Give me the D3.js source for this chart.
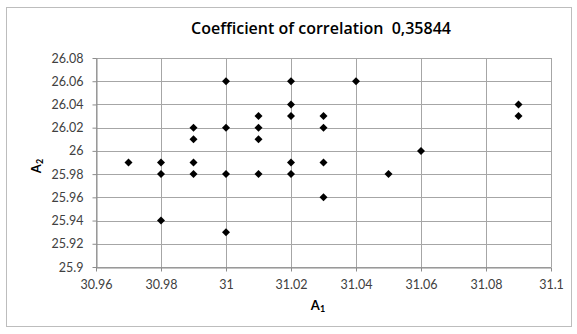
<!DOCTYPE html>
<html>
<head>
<meta charset="utf-8">
<script src="https://cdn.jsdelivr.net/npm/d3@7"></script>
<style>
  body { margin: 0; background: #fff; }
  text { font-family: Lato, "Open Sans", sans-serif; }
</style>
</head>
<body>
<svg></svg>
<script>
const width = 577;
const height = 334;

// measurements A1 / A2
const a1 = [30.97, 30.98, 30.98, 30.98, 30.99, 30.99, 30.99, 30.99,
            31.00, 31.00, 31.00, 31.00, 31.01, 31.01, 31.01, 31.01,
            31.02, 31.02, 31.02, 31.02, 31.02, 31.03, 31.03, 31.03, 31.03,
            31.04, 31.05, 31.06, 31.09, 31.09];
const a2 = [25.99, 25.99, 25.98, 25.94, 26.02, 26.01, 25.99, 25.98,
            26.06, 26.02, 25.98, 25.93, 26.03, 26.02, 26.01, 25.98,
            26.06, 26.04, 26.03, 25.99, 25.98, 26.03, 26.02, 25.99, 25.96,
            26.06, 25.98, 26.00, 26.04, 26.03];
const xTicks = [30.96, 30.98, 31, 31.02, 31.04, 31.06, 31.08, 31.1];
const yTicks = [25.9, 25.92, 25.94, 25.96, 25.98, 26, 26.02, 26.04, 26.06, 26.08];

const points = a1.map((x, i) => ({x: x, y: a2[i]}));

const svg = d3.select("svg")
              .attr("width", width)
              .attr("height", height);

// chart border
svg.append("rect")
  .attr("x", 6.5).attr("y", 7.5)
  .attr("width", 565).attr("height", 319)
  .attr("fill", "#fff")
  .attr("stroke", "#bdbdbd");

const xScale = d3.scaleLinear()
                .domain([30.96, 31.1])
                .range([96, 551]);

const yScale = d3.scaleLinear()
                .domain([25.9, 26.08])
                .range([267, 58]);

// grid
svg.append("g")
  .selectAll("line")
    .data(yTicks)
    .enter()
    .append("line")
    .attr("x1", xScale(30.96)).attr("x2", xScale(31.1))
    .attr("y1", d => Math.round(yScale(d)) + 0.5)
    .attr("y2", d => Math.round(yScale(d)) + 0.5)
    .attr("stroke", "#a6a6a6");

svg.append("g")
  .selectAll("line")
    .data(xTicks)
    .enter()
    .append("line")
    .attr("y1", yScale(25.9)).attr("y2", yScale(26.08))
    .attr("x1", d => Math.round(xScale(d)) + 0.5)
    .attr("x2", d => Math.round(xScale(d)) + 0.5)
    .attr("stroke", "#a6a6a6");

const xAxis = d3.axisBottom(xScale)
                .tickValues(xTicks)
                .tickFormat(d3.format(""))
                .tickSize(4)
                .tickSizeOuter(0);

const yAxis = d3.axisLeft(yScale)
                .tickValues(yTicks)
                .tickFormat(d3.format(""))
                .tickSize(4)
                .tickPadding(9)
                .tickSizeOuter(0);

const gx = svg.append("g")
  .attr("transform", `translate(0,${Math.round(yScale(25.9)) + 0.5})`)
  .call(xAxis);

const gy = svg.append("g")
  .attr("transform", `translate(${Math.round(xScale(30.96)) + 0.5},0)`)
  .call(yAxis);

[gx, gy].forEach(g => {
  g.select(".domain").attr("stroke", "#8c8c8c");
  g.selectAll(".tick line").attr("stroke", "#8c8c8c");
  g.selectAll(".tick text")
    .attr("fill", "#404040")
    .style("font-size", "12.5px");
});
gx.selectAll(".tick text").attr("dy", "1.15em");

svg.append("text")
  .attr("x", 321)
  .attr("y", 34)
  .style("text-anchor", "middle")
  .style("font-family", "'Open Sans', sans-serif")
  .style("font-weight", "600")
  .style("font-size", "16px")
  .style("white-space", "pre")
  .attr("fill", "#000")
  .text("Coefficient of correlation  0,35844");

svg.append("text")
  .attr("x", 318)
  .attr("y", 310)
  .style("text-anchor", "middle")
  .style("font-weight", "bold")
  .style("font-size", "13px")
  .html('A<tspan font-size="9px" dy="2">1</tspan>');

svg.append("text")
  .attr("transform", "translate(41,166) rotate(-90)")
  .style("text-anchor", "middle")
  .style("font-weight", "bold")
  .style("font-size", "13px")
  .html('A<tspan font-size="9px" dy="2">2</tspan>');

// markers: square diamonds, 8px across
const r = 4;
svg.append("g")
  .selectAll("path")
    .data(points)
    .enter()
    .append("path")
    .attr("d", `M0,${-r}L${r},0L0,${r}L${-r},0Z`)
    .attr("transform", d => `translate(${xScale(d.x)},${yScale(d.y)})`)
    .attr("fill", "#000");
</script>
</body>
</html>
